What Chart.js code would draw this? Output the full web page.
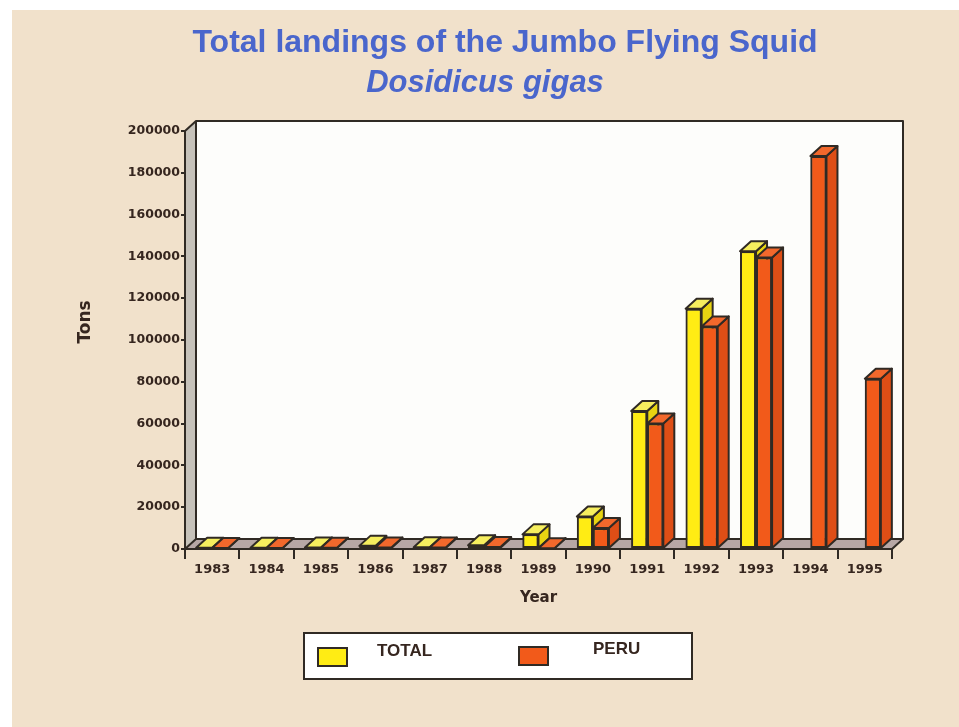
<!DOCTYPE html>
<html>
<head>
<meta charset="utf-8">
<script src="https://cdn.jsdelivr.net/npm/chart.js@4.4.1/dist/chart.umd.min.js"></script>
<style>
  html, body { margin: 0; padding: 0; background: #ffffff; }
  canvas { display: block; }
</style>
</head>
<body>
<canvas id="squid" width="959" height="727"></canvas>
<script>
// ---- data ----
const years = ['1983', '1984', '1985', '1986', '1987', '1988', '1989',
               '1990', '1991', '1992', '1993', '1994', '1995'];
const totalTons = [600, 600, 700, 1500, 800, 1800, 7000,
                   15500, 66000, 115000, 142500, null, null];
const peruTons  = [500, 500, 600, 700, 700, 900, 400,
                   10000, 60000, 106500, 139500, 188000, 81500];
const seriesNames = ['TOTAL', 'PERU'];
const yMin = 0, yMax = 200000, yStep = 20000;
const titleLine1 = 'Total landings of the Jumbo Flying Squid';
const titleLine2 = 'Dosidicus gigas';
const yAxisTitle = 'Tons';
const xAxisTitle = 'Year';

// ---- styles ----
const INK = '#302a24';
const TEXT = '#36261f';
const TITLE_BLUE = '#4a66cc';
const FACES = [
  { front: '#ffec14', top: '#f6ee5e', side: '#e8d412' },
  { front: '#f25a1a', top: '#f2682c', side: '#de4e16' }
];
const DX = 11, DY = -10;   // depth offset of the 3D box

function poly(ctx, pts, fill, stroke) {
  ctx.beginPath();
  ctx.moveTo(pts[0][0], pts[0][1]);
  for (let k = 1; k < pts.length; k++) ctx.lineTo(pts[k][0], pts[k][1]);
  ctx.closePath();
  if (fill) { ctx.fillStyle = fill; ctx.fill(); }
  if (stroke) { ctx.strokeStyle = stroke; ctx.lineWidth = 2; ctx.lineJoin = 'round'; ctx.stroke(); }
}

// page background, back wall, side wall and floor of the 3D frame
const stage = {
  id: 'stage',
  beforeDraw(chart) {
    const { ctx, chartArea: a } = chart;
    ctx.save();
    ctx.fillStyle = '#ffffff';
    ctx.fillRect(0, 0, chart.width, chart.height);
    ctx.fillStyle = '#f1e1cb';
    ctx.fillRect(12, 10, chart.width - 12, chart.height - 10);
    ctx.fillStyle = '#fdfdfb';
    ctx.fillRect(a.left + DX, a.top + DY, a.right - a.left, a.bottom - a.top);
    poly(ctx, [[a.left, a.bottom], [a.left, a.top], [a.left + DX, a.top + DY], [a.left + DX, a.bottom + DY]], '#c6c2ba');
    poly(ctx, [[a.left, a.bottom], [a.right, a.bottom], [a.right + DX, a.bottom + DY], [a.left + DX, a.bottom + DY]], '#b7a7a5');
    ctx.strokeStyle = INK;
    ctx.lineWidth = 2;
    ctx.lineJoin = 'round';
    ctx.beginPath();
    ctx.moveTo(a.left, a.top);
    ctx.lineTo(a.left + DX, a.top + DY);
    ctx.lineTo(a.right + DX, a.top + DY);
    ctx.lineTo(a.right + DX, a.bottom + DY);
    ctx.lineTo(a.right, a.bottom);
    ctx.moveTo(a.left + DX, a.top + DY);
    ctx.lineTo(a.left + DX, a.bottom + DY);
    ctx.lineTo(a.right + DX, a.bottom + DY);
    ctx.moveTo(a.left, a.bottom);
    ctx.lineTo(a.left + DX, a.bottom + DY);
    ctx.stroke();
    ctx.restore();
  }
};

// gives each bar a top and a side face, painting back to front
const extrude = {
  id: 'extrude',
  afterDatasetsDraw(chart) {
    const ctx = chart.ctx;
    const n = chart.data.labels.length;
    ctx.save();
    for (let i = 0; i < n; i++) {
      chart.data.datasets.forEach((ds, di) => {
        const meta = chart.getDatasetMeta(di);
        const bar = meta.data[i];
        if (!bar || ds.data[i] == null) return;
        const { x, y, base, width } = bar.getProps(['x', 'y', 'base', 'width'], true);
        const l = x - width / 2, r = x + width / 2;
        const f = FACES[di];
        poly(ctx, [[r, base], [r, y], [r + DX, y + DY], [r + DX, base + DY]], f.side, INK);
        poly(ctx, [[l, y], [r, y], [r + DX, y + DY], [l + DX, y + DY]], f.top, INK);
        bar.draw(ctx);
      });
    }
    ctx.restore();
  }
};

// titles, vertical axis title and the boxed legend
const decor = {
  id: 'decor',
  afterDraw(chart) {
    const ctx = chart.ctx;
    ctx.save();
    ctx.fillStyle = TITLE_BLUE;
    ctx.textAlign = 'center';
    ctx.textBaseline = 'alphabetic';
    ctx.font = 'bold 32px "Liberation Sans", Arial, sans-serif';
    ctx.fillText(titleLine1, 505, 52);
    ctx.font = 'italic bold 31px "Liberation Sans", Arial, sans-serif';
    ctx.fillText(titleLine2, 485, 92);

    ctx.save();
    ctx.translate(86, 322);
    ctx.rotate(-Math.PI / 2);
    ctx.fillStyle = TEXT;
    ctx.textBaseline = 'middle';
    ctx.font = 'bold 17px "DejaVu Sans", sans-serif';
    ctx.fillText(yAxisTitle, 0, 0);
    ctx.restore();

    ctx.fillStyle = '#ffffff';
    ctx.fillRect(304, 633, 388, 46);
    ctx.strokeStyle = INK;
    ctx.lineWidth = 2;
    ctx.strokeRect(304, 633, 388, 46);
    const slots = [
      { sx: 318, sy: 648, tx: 377, ty: 651 },
      { sx: 519, sy: 647, tx: 593, ty: 649 }
    ];
    ctx.font = 'bold 17px "Liberation Sans", Arial, sans-serif';
    ctx.textAlign = 'left';
    ctx.textBaseline = 'middle';
    chart.data.datasets.forEach((ds, di) => {
      const s = slots[di];
      ctx.fillStyle = ds.backgroundColor;
      ctx.fillRect(s.sx, s.sy, 29, 18);
      ctx.strokeStyle = INK;
      ctx.lineWidth = 2;
      ctx.strokeRect(s.sx, s.sy, 29, 18);
      ctx.fillStyle = TEXT;
      ctx.fillText(ds.label, s.tx, s.ty);
    });
    ctx.restore();
  }
};

new Chart(document.getElementById('squid'), {
  type: 'bar',
  data: {
    labels: years,
    datasets: [
      { label: seriesNames[0], data: totalTons, backgroundColor: FACES[0].front,
        borderColor: INK, borderWidth: 2, borderSkipped: false },
      { label: seriesNames[1], data: peruTons, backgroundColor: FACES[1].front,
        borderColor: INK, borderWidth: 2, borderSkipped: false }
    ]
  },
  options: {
    responsive: false,
    animation: false,
    events: [],
    layout: { padding: { top: 131, right: 67, bottom: 0, left: 0 } },
    datasets: { bar: { categoryPercentage: 0.59, barPercentage: 1.0 } },
    plugins: { legend: { display: false }, tooltip: { enabled: false }, title: { display: false } },
    scales: {
      x: {
        offset: true,
        grid: { offset: true, drawOnChartArea: false, drawTicks: true, tickLength: 10, color: INK, lineWidth: 2 },
        border: { display: true, color: INK, width: 2 },
        ticks: { color: TEXT, padding: 3, maxRotation: 0, autoSkip: false,
                 font: { family: '"DejaVu Sans", sans-serif', size: 13, weight: 'bold' } },
        title: { display: true, text: xAxisTitle, color: TEXT, padding: { top: 0, bottom: 120 },
                 font: { family: '"DejaVu Sans", sans-serif', size: 15, weight: 'bold' } },
        afterFit(scale) { scale.height = 727 - 549; }
      },
      y: {
        min: yMin, max: yMax,
        grid: { drawOnChartArea: false, drawTicks: true, tickLength: 4, color: INK, lineWidth: 2 },
        border: { display: true, color: INK, width: 2 },
        ticks: { stepSize: yStep, color: TEXT, padding: 1,
                 callback: v => String(v),
                 font: { family: '"DejaVu Sans", sans-serif', size: 12.5, weight: 'bold' } },
        afterFit(scale) { scale.width = 185; }
      }
    }
  },
  plugins: [stage, extrude, decor]
});
</script>
</body>
</html>
